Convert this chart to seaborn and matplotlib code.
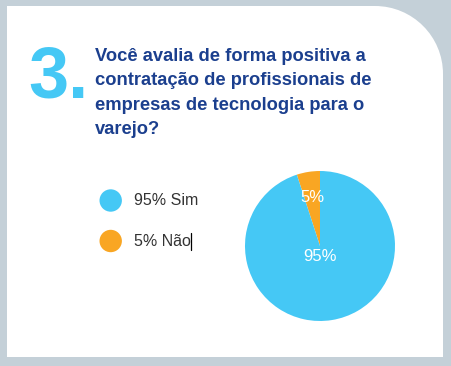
import matplotlib
matplotlib.use("Agg")
import matplotlib.pyplot as plt
from matplotlib.path import Path
from matplotlib.patches import PathPatch
import seaborn as sns
import pandas as pd

# ---- data ----
categories = ["Sim", "Não"]
values = [95, 5]
legend_labels = ["95% Sim", "5% Não"]
question_number = "3."
question = "Você avalia de forma positiva a\ncontratação de profissionais de\nempresas de tecnologia para o\nvarejo?"

BLUE = "#45c8f5"
ORANGE = "#f9a623"
NAVY = "#1b3f8e"

sns.set_theme(style="white")
plt.rcParams["font.family"] = ["Liberation Sans", "DejaVu Sans"]

W, H = 452, 366
fig = plt.figure(figsize=(W / 100, H / 100), dpi=100, facecolor="#c4d0d8")

# background / card axes in pixel coordinates
bg = fig.add_axes([0, 0, 1, 1])
bg.set_xlim(0, W)
bg.set_ylim(H, 0)
bg.axis("off")

L, R, T, B, rad = 7, 443, 6, 357, 68
k = 0.5523
verts = [(L, B), (L, T), (R - rad, T),
         (R - rad + rad * k, T), (R, T + rad - rad * k), (R, T + rad),
         (R, B), (L, B)]
codes = [Path.MOVETO, Path.LINETO, Path.LINETO,
         Path.CURVE4, Path.CURVE4, Path.CURVE4,
         Path.LINETO, Path.CLOSEPOLY]
bg.add_patch(PathPatch(Path(verts, codes), facecolor="white", edgecolor="none"))

bg.text(28, 98, question_number, fontsize=52, fontweight="bold", color=BLUE,
        ha="left", va="baseline")
bg.text(95, 48, question, fontsize=13.2, fontweight="bold", color=NAVY,
        ha="left", va="top", linespacing=1.56)

# legend drawn with seaborn scatter
leg_df = pd.DataFrame({"x": [110.7, 110.7], "y": [200.5, 241], "cat": categories})
sns.scatterplot(data=leg_df, x="x", y="y", hue="cat",
                palette={categories[0]: BLUE, categories[1]: ORANGE},
                s=260, linewidth=0, legend=False, ax=bg)
bg.set_xlim(0, W)
bg.set_ylim(H, 0)
for lab, yy in zip(legend_labels, leg_df["y"]):
    bg.text(134, yy, lab, fontsize=11.5, color="#333333", ha="left", va="center")
# text cursor after last label
bg.plot([191.5, 191.5], [233, 250], color="black", lw=0.9)

# pie
cx, cy, r = 320, 246, 75
pax = fig.add_axes([(cx - r) / W, (H - cy - r) / H, 2 * r / W, 2 * r / H])
wedges, texts, autotexts = pax.pie(
    [values[1], values[0]], colors=[ORANGE, BLUE], startangle=90,
    autopct="%d%%", pctdistance=0.66,
    textprops=dict(color="white", fontsize=12),
    wedgeprops=dict(linewidth=0))
autotexts[1].set_position((0.0, -0.14))
pax.set_xlim(-1, 1)
pax.set_ylim(-1, 1)
pax.set_aspect("equal")
pax.axis("off")

fig.savefig("out.png", dpi=100, facecolor=fig.get_facecolor())
